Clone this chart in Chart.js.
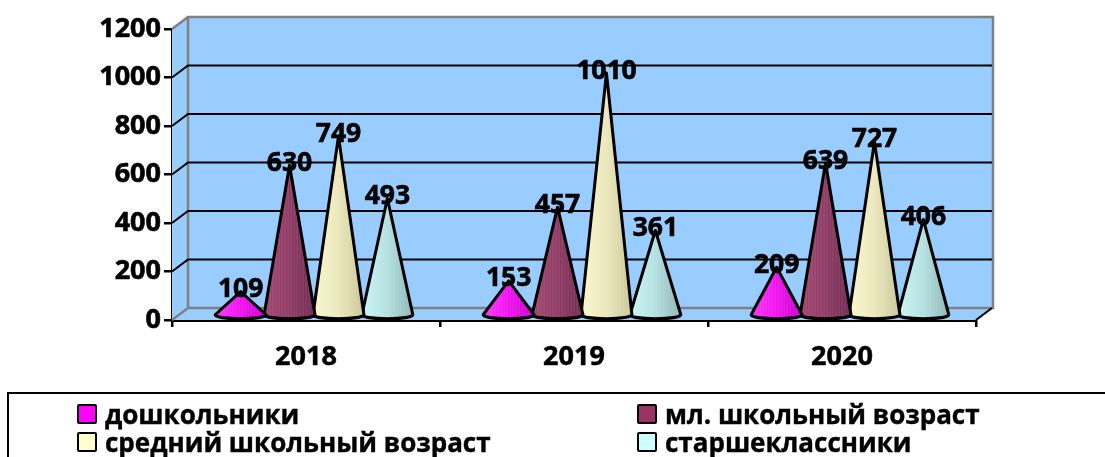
<!DOCTYPE html>
<html lang="ru">
<head>
  <meta charset="UTF-8" />
  <title>Возрастной состав</title>
  <script src="https://cdn.jsdelivr.net/npm/chart.js"></script>
  <style>
    html, body { margin: 0; background: #fff; overflow: hidden; }
    #wrap { position: relative; width: 1105px; height: 457px; overflow: hidden; }
    canvas { position: absolute; left: 0; top: 0; }
    .legend-box {
      position: absolute; left: 7px; top: 392px; width: 1200px; height: 200px;
      border: 2px solid #000; box-sizing: border-box;
    }
    .legend-item {
      position: absolute; font: bold 26px "Open Sans", sans-serif; color: #000;
      -webkit-text-stroke: 0.4px #000;
      line-height: 27px; white-space: nowrap;
    }
    .legend-item i {
      position: absolute; left: -28px; top: 3px; width: 16px; height: 16px;
      border: 2.5px solid #000; border-radius: 2px;
    }
  </style>
</head>
<body>
  <div id="wrap">
    <canvas id="chart" width="1105" height="457"></canvas>
    <div class="legend-box"></div>
    <div id="legend"></div>
  </div>

  <script>
    const years = ['2018', '2019', '2020'];
    const seriesNames = ['дошкольники', 'мл. школьный возраст', 'средний школьный возраст', 'старшеклассники'];
    const preschool = [109, 153, 209];
    const juniorSchool = [630, 457, 639];
    const middleSchool = [749, 1010, 727];
    const seniors = [493, 361, 406];

    const swatches = ['#ff00ff', '#993366', '#ffffcc', '#ccffff'];
    // light edge, middle, dark edge of each cone
    const coneShades = [
      ['#ff33ff', '#f010f0', '#c800c8'],
      ['#a0466f', '#8f3a63', '#6e2a50'],
      ['#f8f8cc', '#ebe7bb', '#c9c59a'],
      ['#c8f6f6', '#b4e0e0', '#8db5b5']
    ];

    const FONT = '"Open Sans", sans-serif';
    const DEPTH_X = 16, DEPTH_Y = 12;

    // 3D box behind the bars: back wall, side wall, floor, grid lines
    const wallsPlugin = {
      id: 'walls',
      beforeDatasetsDraw(chart) {
        const c = chart.ctx, a = chart.chartArea, y = chart.scales.y;
        c.save();
        c.fillStyle = '#99ccff';
        c.beginPath();
        c.moveTo(a.left, a.top);
        c.lineTo(a.left + DEPTH_X, a.top - DEPTH_Y);
        c.lineTo(a.right + DEPTH_X + 1, a.top - DEPTH_Y);
        c.lineTo(a.right + DEPTH_X + 1, a.bottom - DEPTH_Y);
        c.lineTo(a.right, a.bottom);
        c.lineTo(a.left, a.bottom);
        c.closePath();
        c.fill();

        c.strokeStyle = '#808080';
        c.lineWidth = 2.5;
        c.beginPath();
        c.moveTo(a.left + DEPTH_X, a.bottom - DEPTH_Y);
        c.lineTo(a.left + DEPTH_X, a.top - DEPTH_Y);
        c.lineTo(a.right + DEPTH_X + 1, a.top - DEPTH_Y);
        c.lineTo(a.right + DEPTH_X + 1, a.bottom - DEPTH_Y);
        c.lineTo(a.left + DEPTH_X, a.bottom - DEPTH_Y);
        c.lineTo(a.left, a.bottom);
        c.moveTo(a.left, a.top);
        c.lineTo(a.left + DEPTH_X, a.top - DEPTH_Y);
        c.stroke();

        c.strokeStyle = '#000';
        c.lineWidth = 2;
        y.ticks.forEach(t => {
          if (t.value === 0 || t.value === y.max) return;
          const py = y.getPixelForValue(t.value);
          c.beginPath();
          c.moveTo(a.left, py);
          c.lineTo(a.left + DEPTH_X, py - DEPTH_Y);
          c.lineTo(a.right + DEPTH_X, py - DEPTH_Y);
          c.stroke();
        });

        c.beginPath();
        c.moveTo(a.right, a.bottom);
        c.lineTo(a.right + DEPTH_X, a.bottom - DEPTH_Y);
        c.stroke();
        c.restore();
      }
    };

    // every bar element is drawn as a cone, labels go on top
    const conesPlugin = {
      id: 'cones',
      beforeDatasetDraw(chart, args) {
        const c = chart.ctx;
        const shades = coneShades[args.index];
        args.meta.data.forEach(bar => {
          const cx = bar.x + 8, half = bar.width / 2 + 1, by = bar.base - 4, tip = bar.y - 2;
          const g = c.createLinearGradient(cx - half, 0, cx + half, 0);
          g.addColorStop(0, shades[0]);
          g.addColorStop(0.5, shades[1]);
          g.addColorStop(1, shades[2]);
          const cone = new Path2D();
          cone.moveTo(cx, tip);
          cone.lineTo(cx + half, by);
          cone.ellipse(cx, by, half, 4, 0, 0, Math.PI);
          cone.closePath();
          c.save();
          c.fillStyle = g;
          c.fill(cone);
          // faint vertical banding
          c.save();
          c.clip(cone);
          c.strokeStyle = 'rgba(255,255,255,0.13)';
          c.lineWidth = 1;
          for (let x = cx - half; x < cx + half; x += 3) {
            c.beginPath();
            c.moveTo(x, tip);
            c.lineTo(x, by + 5);
            c.stroke();
          }
          c.restore();
          c.strokeStyle = '#000';
          c.lineWidth = 3;
          c.lineJoin = 'round';
          c.stroke(cone);
          c.restore();
        });
        return false;
      },
      afterDatasetsDraw(chart) {
        const c = chart.ctx;
        c.save();
        c.font = 'bold 26.5px ' + FONT;
        c.fillStyle = '#000';
        c.strokeStyle = '#000';
        c.lineWidth = 0.6;
        c.textAlign = 'center';
        c.textBaseline = 'middle';
        chart.data.datasets.forEach((ds, i) => {
          chart.getDatasetMeta(i).data.forEach((bar, j) => {
            c.fillText(ds.data[j], bar.x + 8, bar.y - 4);
            c.strokeText(ds.data[j], bar.x + 8, bar.y - 4);
          });
        });
        c.restore();
      }
    };

    const seriesValues = [preschool, juniorSchool, middleSchool, seniors];

    new Chart(document.getElementById('chart'), {
      type: 'bar',
      data: {
        labels: years,
        datasets: seriesNames.map((name, i) => ({
          label: name,
          data: seriesValues[i],
          backgroundColor: swatches[i],
          categoryPercentage: 0.73,
          barPercentage: 1
        }))
      },
      options: {
        responsive: false,
        animation: false,
        layout: { padding: { top: 29, right: 129, left: 0, bottom: 0 } },
        plugins: { legend: { display: false }, tooltip: { enabled: false } },
        scales: {
          x: {
            afterFit(s) { s.height = 137; },
            border: { color: '#000', width: 3 },
            grid: { drawOnChartArea: false, color: '#000', lineWidth: 2.5, tickLength: 7 },
            ticks: {
              color: '#000', padding: 14, textStrokeColor: '#000', textStrokeWidth: 0.5,
              font: { family: FONT, size: 27, weight: 'bold' }
            }
          },
          y: {
            min: 0,
            max: 1200,
            afterFit(s) { s.width = 172; },
            border: { color: '#000', width: 3 },
            grid: { drawOnChartArea: false, color: '#000', lineWidth: 2.5, tickLength: 8 },
            ticks: {
              stepSize: 200, color: '#000', padding: 3, textStrokeColor: '#000', textStrokeWidth: 0.6,
              font: { family: FONT, size: 27, weight: 'bold' },
              callback: v => String(v)
            }
          }
        }
      },
      plugins: [wallsPlugin, conesPlugin]
    });

    // legend in two columns, filled from the series names
    const legendPos = [[105, 401], [665, 401], [105, 429], [665, 429]];
    const legendEl = document.getElementById('legend');
    seriesNames.forEach((name, i) => {
      const item = document.createElement('div');
      item.className = 'legend-item';
      item.style.left = legendPos[i][0] + 'px';
      item.style.top = legendPos[i][1] + 'px';
      item.innerHTML = '<i style="background:' + swatches[i] + '"></i>' + name;
      legendEl.appendChild(item);
    });
  </script>
</body>
</html>
